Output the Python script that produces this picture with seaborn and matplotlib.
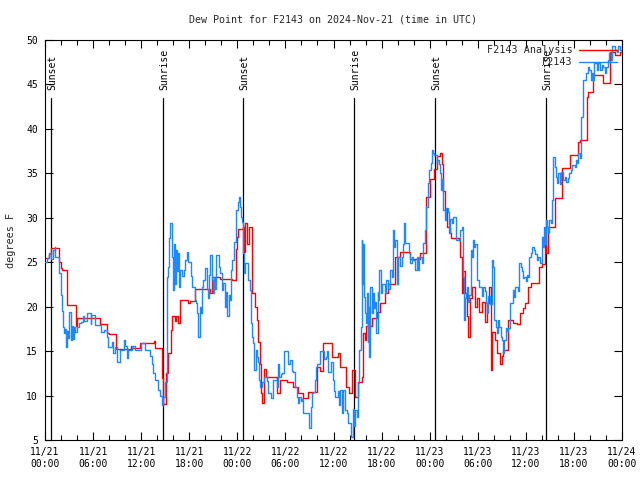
import pandas as pd
import matplotlib
matplotlib.use('Agg')
import matplotlib.pyplot as plt
import matplotlib.dates as mdates
import seaborn as sns

# Hours after 2024-11-21 00:00 UTC and dew point (F)
analysis_hours = [0.0, 0.5, 0.8, 1.78, 1.96, 2.1, 2.7, 3.87, 4.0, 6.86, 7.7, 8.0, 8.86, 10.7, 10.9,
                  11.85, 13.6, 13.7, 14.6, 14.7, 15.1, 15.4, 15.7, 15.85, 16.2, 16.4, 16.6, 16.85,
                  17.8, 18.1, 18.7, 20.6, 20.8, 21.8, 23.3, 23.8, 23.95, 24.1, 24.7, 24.8, 25.0,
                  25.2, 25.4, 25.8, 25.85, 26.2, 26.45, 26.6, 26.8, 27.0, 27.08, 27.3, 27.6, 28.5,
                  28.9, 29.3, 30.2, 30.9, 31.6, 32.2, 32.8, 33.9, 34.3, 34.7, 35.8, 36.6, 36.8,
                  37.6, 37.9, 38.3, 38.7, 39.1, 39.5, 39.7, 39.9, 40.1, 40.8, 41.4, 41.8, 42.4,
                  42.8, 43.7, 44.3, 45.5, 46.8, 47.6, 48.0, 48.5, 48.9, 49.3, 49.5, 49.7, 49.9,
                  50.2, 50.5, 50.7, 51.6, 51.8, 52.0, 52.2, 52.4, 52.7, 52.8, 53.0, 53.3, 53.7,
                  53.9, 54.2, 54.5, 54.9, 55.2, 55.4, 55.7, 55.8, 56.2, 56.4, 56.8, 57.0, 57.2,
                  57.8, 58.4, 58.9, 59.3, 59.6, 59.9, 60.3, 60.7, 61.6, 62.0, 62.4, 62.5, 62.8,
                  63.6, 64.5, 65.5, 66.5, 66.8, 67.6, 67.8, 68.4, 69.6, 70.5, 71.1, 71.75, 72.0]
analysis_dewpt = [25.5, 25.9, 26.6, 25.0, 24.3, 24.1, 20.2, 17.8, 18.7, 18.1, 17.0, 16.9, 15.2, 15.6, 15.3,
                  15.9, 16.1, 15.3, 12.0, 9.1, 12.5, 14.8, 17.4, 19.0, 18.4, 18.9, 18.2, 20.7,
                  20.4, 20.6, 22.0, 21.5, 23.3, 23.1, 23.0, 26.5, 27.8, 28.7, 29.0, 26.1, 29.4,
                  27.0, 29.0, 24.9, 21.5, 20.0, 18.5, 16.0, 13.6, 10.3, 9.2, 13.0, 12.1, 12.1,
                  10.3, 11.8, 11.5, 11.0, 10.3, 9.7, 10.4, 13.2, 12.8, 15.9, 14.3, 14.8, 13.2,
                  11.0, 10.3, 12.9, 9.8, 11.5, 12.1, 17.0, 16.2, 17.8, 18.7, 19.4, 20.4, 21.5,
                  22.6, 25.6, 26.1, 25.4, 26.0, 32.3, 34.4, 35.5, 37.0, 37.3, 36.0, 33.0, 31.0,
                  29.0, 28.3, 27.7, 27.5, 25.6, 21.5, 24.0, 21.5, 19.0, 16.6, 21.0, 22.2, 20.0,
                  21.0, 19.4, 20.5, 18.3, 20.4, 22.2, 12.9, 17.1, 16.2, 14.8, 13.6, 14.5, 15.1,
                  18.5, 18.2, 18.0, 19.3, 19.9, 20.4, 22.2, 22.7, 24.5, 24.8, 27.5, 26.0, 29.0,
                  32.2, 35.6, 37.1, 38.5, 38.7, 43.6, 44.2, 46.1, 45.2, 48.6, 48.3, 48.6, 48.6]

station_hours = [0.0, 0.25, 0.5, 0.75, 1.0, 1.2, 1.3, 1.8, 1.95, 2.05, 2.15, 2.2, 2.4, 2.55, 2.65, 2.75,
                 2.9, 3.05, 3.2, 3.35, 3.45, 3.6, 3.8, 4.0, 4.3, 4.45, 4.7, 4.9, 5.3, 5.7, 5.8, 6.2,
                 6.5, 7.0, 7.3, 7.7, 7.9, 8.3, 8.5, 8.7, 9.0, 9.4, 9.9, 10.0, 10.2, 10.4, 10.9, 11.2,
                 12.0, 12.27, 12.5, 13.1, 13.3, 13.5, 13.7, 14.1, 14.35, 14.56, 14.76, 14.97, 15.19,
                 15.26, 15.39, 15.5, 15.6, 15.8, 15.9, 16.0, 16.1, 16.2, 16.35, 16.47, 16.6, 16.76,
                 16.9, 17.06, 17.3, 17.47, 17.68, 17.88, 18.2, 18.4, 18.7, 18.9, 19.0, 19.13, 19.28,
                 19.43, 19.55, 19.75, 19.96, 20.18, 20.3, 20.46, 20.6, 20.78, 20.93, 21.1, 21.2, 21.4,
                 21.65, 21.84, 22.05, 22.25, 22.4, 22.6, 22.75, 22.9, 23.1, 23.2, 23.37, 23.6, 23.83,
                 24.05, 24.17, 24.33, 24.46, 24.62, 24.74, 24.83, 24.96, 25.17, 25.37, 25.58, 25.7,
                 25.83, 26.0, 26.1, 26.33, 26.5, 26.6, 26.7, 26.83, 27.04, 27.37, 27.66, 27.86, 28.2,
                 28.49, 28.91, 29.1, 29.2, 29.4, 29.57, 29.86, 30.26, 30.36, 30.57, 30.78, 30.98,
                 31.2, 31.4, 31.6, 31.73, 31.94, 32.13, 32.23, 32.65, 32.98, 33.15, 33.28, 33.48,
                 33.69, 33.8, 33.98, 34.31, 34.73, 34.85, 35.06, 35.15, 35.35, 35.56, 35.7, 35.9,
                 36.06, 36.19, 36.4, 36.52, 36.7, 36.87, 37.06, 37.2, 37.43, 37.65, 37.85, 38.06,
                 38.18, 38.4, 38.56, 38.74, 38.9, 39.0, 39.2, 39.4, 39.5, 39.6, 39.7, 39.8, 39.9,
                 40.06, 40.15, 40.25, 40.35, 40.47, 40.55, 40.77, 40.97, 41.1, 41.2, 41.3, 41.5,
                 41.6, 41.7, 41.9, 42.05, 42.43, 42.6, 42.84, 43.0, 43.26, 43.4, 43.55, 43.67, 43.9,
                 43.96, 44.09, 44.3, 44.5, 44.7, 44.84, 44.92, 45.33, 45.46, 45.6, 45.76, 45.96,
                 46.17, 46.36, 46.6, 46.7, 47.0, 47.2, 47.42, 47.54, 47.83, 47.95, 48.13, 48.25,
                 48.45, 48.58, 48.88, 48.95, 49.2, 49.29, 49.38, 49.5, 49.63, 49.7, 49.91, 50.04,
                 50.33, 50.45, 50.54, 50.75, 50.88, 51.16, 51.29, 51.7, 51.78, 52.0, 52.1, 52.2,
                 52.28, 52.41, 52.53, 52.7, 52.8, 52.95, 53.13, 53.25, 53.38, 53.53, 53.66, 53.87,
                 53.94, 54.2, 54.28, 54.5, 54.6, 54.9, 55.03, 55.2, 55.32, 55.53, 55.74, 55.94,
                 56.07, 56.28, 56.36, 56.57, 56.7, 56.86, 56.99, 57.19, 57.3, 57.52, 57.6, 57.8,
                 58.02, 58.23, 58.36, 58.52, 58.65, 58.94, 59.06, 59.18, 59.36, 59.48, 59.68, 59.8,
                 60.02, 60.1, 60.3, 60.43, 60.6, 60.73, 61.0, 61.14, 61.35, 61.48, 61.77, 61.98,
                 62.18, 62.27, 62.39, 62.52, 62.68, 62.8, 62.93, 63.1, 63.23, 63.43, 63.64, 63.76,
                 63.93, 64.05, 64.26, 64.45, 64.67, 64.88, 65.07, 65.3, 65.42, 65.6, 65.72, 66.13,
                 66.26, 66.42, 66.55, 66.76, 66.88, 67.1, 67.17, 67.38, 67.5, 67.8, 67.92, 68.1,
                 68.22, 68.42, 68.55, 68.85, 69.05, 69.25, 69.47, 69.6, 69.87, 70.0, 70.3, 70.4,
                 70.6, 70.7, 70.9, 71.12, 71.33, 71.54, 71.75, 72.0]
station_dewpt = [25.0, 25.5, 26.0, 25.4, 26.4, 26.7, 25.6, 23.8, 22.7, 21.3, 19.5, 17.7, 17.0, 17.5, 15.5, 17.3,
                 16.5, 19.4, 16.2, 17.8, 16.4, 17.7, 17.2, 17.7, 18.2, 18.3, 18.9, 18.4, 19.3, 18.0, 19.1, 17.9,
                 17.9, 17.2, 17.4, 16.6, 15.5, 16.0, 14.8, 15.5, 13.8, 15.1, 16.2, 15.6, 14.2, 15.1, 15.6, 15.1,
                 15.9, 15.9, 15.1, 14.5, 13.6, 12.5, 11.8, 10.6, 10.0, 8.9, 9.8, 11.5, 21.1,
                 23.3, 24.5, 27.7, 29.4, 28.3, 25.6, 21.9, 27.0, 22.5, 26.4, 24.0, 26.0, 22.2,
                 24.1, 23.5, 24.1, 25.3, 26.2, 25.0, 23.5, 22.2, 20.8, 20.4, 19.3, 16.6, 20.0,
                 19.3, 22.2, 23.0, 24.3, 22.0, 21.0, 23.6, 25.8, 23.0, 21.5, 23.3, 22.0, 25.8,
                 24.5, 23.8, 21.9, 22.7, 20.0, 21.6, 18.9, 21.3, 20.7, 24.1, 25.3, 27.3, 30.9,
                 31.8, 32.3, 31.2, 30.1, 29.5, 26.0, 23.8, 24.9, 24.9, 23.0, 21.9, 18.2,
                 16.6, 15.9, 12.9, 15.1, 14.3, 13.8, 11.8, 11.0, 11.5, 12.1, 11.6, 10.3, 9.7,
                 11.8, 11.0, 13.6, 12.1, 12.4, 12.5, 15.0, 15.0, 13.6, 14.0, 12.8, 12.6,
                 11.0, 9.8, 9.2, 9.8, 9.4, 9.6, 8.0, 8.0, 6.3, 8.7, 10.3, 10.4,
                 11.8, 13.2, 13.6, 15.0, 15.0, 14.1, 14.3, 15.0, 12.6, 12.6, 13.8, 11.8,
                 10.5, 9.8, 9.8, 10.5, 8.9, 10.6, 8.0, 10.6, 8.4, 8.0, 6.9, 6.9,
                 5.3, 8.5, 6.6, 8.4, 7.6, 11.4, 15.1, 17.7, 27.5, 22.6, 27.0, 21.1, 19.3,
                 18.2, 21.5, 16.0, 20.0, 14.3, 22.2, 19.3, 21.5, 19.8, 20.5, 17.0, 21.7,
                 20.8, 24.1, 21.5, 22.6, 21.5, 23.0, 22.0, 24.1, 23.3, 28.6, 26.7, 27.5, 24.9,
                 22.6, 25.6, 24.6, 25.6, 27.0, 29.4, 27.2, 27.2, 26.0, 24.9, 25.6, 25.3,
                 24.1, 25.6, 24.1, 25.6, 24.9, 27.2, 28.6, 31.2, 33.9, 35.4, 36.2, 37.6,
                 37.3, 37.1, 36.2, 36.5, 36.0, 35.0, 33.1, 34.4, 31.7, 30.9, 29.7, 31.1,
                 30.6, 28.3, 29.9, 29.4, 30.1, 30.1, 27.5, 27.5, 28.6, 29.0, 26.4, 23.3,
                 18.5, 21.0, 21.5, 22.2, 20.5, 21.3, 26.4, 25.6, 27.5, 26.7, 27.0, 26.0,
                 23.0, 22.2, 22.2, 21.2, 22.2, 21.8, 20.4, 19.3, 21.2, 20.3, 25.3, 24.5,
                 18.5, 17.7, 17.0, 18.5, 17.7, 16.6, 16.2, 14.8, 16.2, 17.6, 17.3, 17.6,
                 20.4, 20.4, 21.9, 21.1, 22.2, 22.2, 21.8, 24.9, 24.5, 24.0, 23.2, 23.3,
                 22.9, 23.6, 23.3, 25.6, 26.0, 26.7, 26.4, 25.9, 25.3, 25.6, 24.9, 27.8,
                 26.7, 29.0, 27.0, 29.7, 29.0, 28.3, 29.7, 29.4, 32.0, 36.8, 35.7, 34.6,
                 33.9, 35.0, 33.8, 35.2, 34.3, 34.6, 34.0, 34.5, 35.0, 35.4, 35.9, 35.7,
                 36.5, 36.2, 37.3, 36.7, 41.3, 43.3, 45.5, 45.5, 46.3, 47.0, 46.6, 45.5,
                 46.3, 45.5, 47.4, 46.6, 47.4, 46.6, 47.2, 47.0, 46.3, 47.0, 47.7, 48.5,
                 47.7, 49.3, 49.3, 48.9, 48.7, 49.3, 48.9, 49.1]

sunset_hours = [0.75, 24.7, 48.66]
sunrise_hours = [14.72, 38.56, 62.52]

start = pd.Timestamp('2024-11-21 00:00')
end = pd.Timestamp('2024-11-24 00:00')
analysis = pd.DataFrame({'time': start + pd.to_timedelta(analysis_hours, unit='h'),
                         'dewpt': analysis_dewpt})
station = pd.DataFrame({'time': start + pd.to_timedelta(station_hours, unit='h'),
                        'dewpt': station_dewpt})

sns.set_theme(style='ticks')
plt.rcParams['font.family'] = ['DejaVu Sans Mono']
plt.rcParams['font.size'] = 7

fig = plt.figure(figsize=(6.4, 4.8), dpi=100)
ax = fig.add_axes([45 / 640, 40 / 480, 577 / 640, 400 / 480])

# sunrise / sunset markers
events = [(h, 'Sunset') for h in sunset_hours] + [(h, 'Sunrise') for h in sunrise_hours]
for h, name in events:
    t = start + pd.Timedelta(hours=h)
    ax.plot([t, t], [5, 43.5], color='black', lw=0.9, zorder=1)
    ax.annotate(name, xy=(t, 44.4), xytext=(1.3, 0), textcoords='offset points',
                rotation=90, ha='center', va='bottom', fontsize=7, color='black')

sns.lineplot(data=analysis, x='time', y='dewpt', color='#ff0000', lw=1.0,
             drawstyle='steps-post', estimator=None, ax=ax, label='F2143 Analysis', zorder=2)
sns.lineplot(data=station, x='time', y='dewpt', color='#1e88ff', lw=1.0,
             drawstyle='steps-post', estimator=None, ax=ax, label='F2143', zorder=3)

ax.set_xlim(start, end)
ax.set_ylim(5, 50)
ax.set_yticks(range(5, 51, 5))
ax.xaxis.set_major_locator(mdates.HourLocator(byhour=range(0, 24, 6)))
ax.xaxis.set_minor_locator(mdates.HourLocator(byhour=range(0, 24, 2)))
ax.xaxis.set_major_formatter(mdates.DateFormatter('%m/%d\n%H:%M'))
ax.tick_params(which='both', direction='in', top=True, right=True, colors='black',
               labelsize=7, width=0.8)
ax.tick_params(which='major', length=6, pad=5)
ax.tick_params(which='minor', length=3.5)
for s in ax.spines.values():
    s.set_visible(True)
    s.set_color('black')
    s.set_linewidth(0.8)
ax.set_xlabel('')
ax.set_ylabel('')

leg = ax.legend(loc='upper right', bbox_to_anchor=(1.0, 1.0), frameon=False,
                markerfirst=False, handlelength=3.7, fontsize=7.3,
                labelspacing=0.2, borderaxespad=0.1, handletextpad=0.7)
leg.set_zorder(5)

fig.text(333 / 640, 1 - 20 / 480, 'Dew Point for F2143 on 2024-Nov-21 (time in UTC)',
         ha='center', va='center', fontsize=7.2)
fig.text(11 / 640, 0.5, 'degrees F', rotation=90, ha='center', va='center', fontsize=7.3)

fig.savefig('out.png', dpi=100, facecolor='white')
plt.close(fig)
